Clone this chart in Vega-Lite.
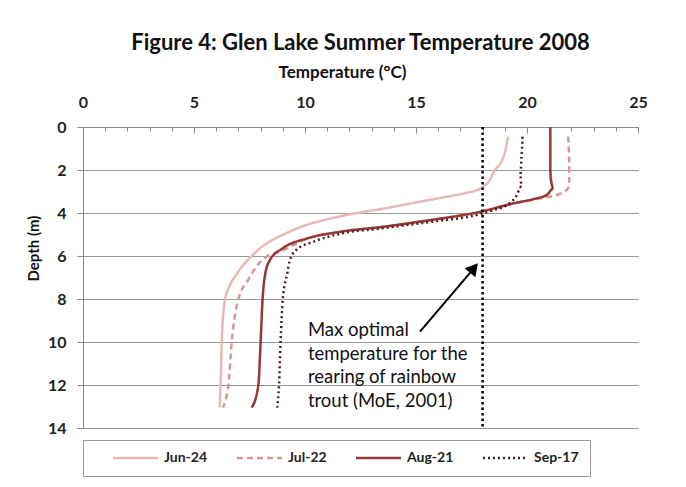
{
  "$schema": "https://vega.github.io/schema/vega-lite/v6.json",
  "width": 555,
  "height": 301,
  "autosize": {"type": "none"},
  "padding": {"left": 83, "top": 127, "right": 48, "bottom": 59},
  "background": "white",
  "config": {
    "font": "Lato",
    "view": {"stroke": null},
    "legend": {
      "orient": "bottom",
      "direction": "horizontal",
      "symbolType": "M2.4,0H11.4",
      "symbolSize": 100,
      "symbolStrokeWidth": 2.5,
      "labelFontSize": 14,
      "labelFontWeight": "bold",
      "labelColor": "#222",
      "strokeColor": "#999",
      "padding": 11,
      "offset": 12,
      "columnPadding": 10,
      "labelOffset": 56
    }
  },
  "title": {
    "text": "Figure 4: Glen Lake Summer Temperature 2008",
    "fontSize": 22,
    "fontWeight": "bold",
    "color": "#111",
    "anchor": "middle",
    "offset": 9
  },
  "resolve": {"axis": {"x": "independent"}},
  "layer": [
    {
      "data": {
        "values": [
          {"date": "Jun-24", "temp": 19.15, "depth": 0.45},
          {"date": "Jun-24", "temp": 19.0, "depth": 1.2},
          {"date": "Jun-24", "temp": 18.8, "depth": 1.7},
          {"date": "Jun-24", "temp": 18.55, "depth": 2.0},
          {"date": "Jun-24", "temp": 18.3, "depth": 2.5},
          {"date": "Jun-24", "temp": 17.9, "depth": 2.85},
          {"date": "Jun-24", "temp": 17.2, "depth": 3.08},
          {"date": "Jun-24", "temp": 16.4, "depth": 3.24},
          {"date": "Jun-24", "temp": 15.2, "depth": 3.47},
          {"date": "Jun-24", "temp": 13.4, "depth": 3.82},
          {"date": "Jun-24", "temp": 11.6, "depth": 4.15},
          {"date": "Jun-24", "temp": 9.3, "depth": 4.87},
          {"date": "Jun-24", "temp": 7.8, "depth": 5.8},
          {"date": "Jun-24", "temp": 6.95, "depth": 6.8},
          {"date": "Jun-24", "temp": 6.6, "depth": 7.4},
          {"date": "Jun-24", "temp": 6.4, "depth": 8.0},
          {"date": "Jun-24", "temp": 6.25, "depth": 10.0},
          {"date": "Jun-24", "temp": 6.2, "depth": 12.0},
          {"date": "Jun-24", "temp": 6.15, "depth": 13.05},
          {"date": "Jul-22", "temp": 21.85, "depth": 0.45},
          {"date": "Jul-22", "temp": 21.9, "depth": 1.5},
          {"date": "Jul-22", "temp": 21.9, "depth": 2.6},
          {"date": "Jul-22", "temp": 21.85, "depth": 2.85},
          {"date": "Jul-22", "temp": 21.5, "depth": 3.1},
          {"date": "Jul-22", "temp": 20.6, "depth": 3.32},
          {"date": "Jul-22", "temp": 19.4, "depth": 3.56},
          {"date": "Jul-22", "temp": 17.9, "depth": 3.95},
          {"date": "Jul-22", "temp": 15.5, "depth": 4.36},
          {"date": "Jul-22", "temp": 13.6, "depth": 4.64},
          {"date": "Jul-22", "temp": 11.6, "depth": 4.88},
          {"date": "Jul-22", "temp": 10.1, "depth": 5.2},
          {"date": "Jul-22", "temp": 8.87, "depth": 5.8},
          {"date": "Jul-22", "temp": 8.27, "depth": 6.03},
          {"date": "Jul-22", "temp": 7.8, "depth": 6.5},
          {"date": "Jul-22", "temp": 7.45, "depth": 7.1},
          {"date": "Jul-22", "temp": 7.0, "depth": 8.0},
          {"date": "Jul-22", "temp": 6.7, "depth": 10.0},
          {"date": "Jul-22", "temp": 6.55, "depth": 12.0},
          {"date": "Jul-22", "temp": 6.3, "depth": 13.05},
          {"date": "Aug-21", "temp": 21.05, "depth": 0.0},
          {"date": "Aug-21", "temp": 21.05, "depth": 1.0},
          {"date": "Aug-21", "temp": 21.05, "depth": 2.0},
          {"date": "Aug-21", "temp": 21.1, "depth": 2.6},
          {"date": "Aug-21", "temp": 21.2, "depth": 2.85},
          {"date": "Aug-21", "temp": 20.9, "depth": 3.15},
          {"date": "Aug-21", "temp": 20.3, "depth": 3.35},
          {"date": "Aug-21", "temp": 19.4, "depth": 3.55},
          {"date": "Aug-21", "temp": 17.9, "depth": 3.94},
          {"date": "Aug-21", "temp": 15.5, "depth": 4.35},
          {"date": "Aug-21", "temp": 13.6, "depth": 4.63},
          {"date": "Aug-21", "temp": 11.6, "depth": 4.87},
          {"date": "Aug-21", "temp": 10.1, "depth": 5.18},
          {"date": "Aug-21", "temp": 9.0, "depth": 5.64},
          {"date": "Aug-21", "temp": 8.42, "depth": 6.19},
          {"date": "Aug-21", "temp": 8.2, "depth": 6.88},
          {"date": "Aug-21", "temp": 8.09, "depth": 8.0},
          {"date": "Aug-21", "temp": 8.0, "depth": 10.0},
          {"date": "Aug-21", "temp": 7.9, "depth": 12.0},
          {"date": "Aug-21", "temp": 7.6, "depth": 13.05},
          {"date": "Sep-17", "temp": 19.8, "depth": 0.45},
          {"date": "Sep-17", "temp": 19.75, "depth": 1.5},
          {"date": "Sep-17", "temp": 19.7, "depth": 2.2},
          {"date": "Sep-17", "temp": 19.75, "depth": 2.77},
          {"date": "Sep-17", "temp": 19.5, "depth": 3.24},
          {"date": "Sep-17", "temp": 19.1, "depth": 3.63},
          {"date": "Sep-17", "temp": 18.5, "depth": 3.86},
          {"date": "Sep-17", "temp": 17.9, "depth": 4.05},
          {"date": "Sep-17", "temp": 15.6, "depth": 4.42},
          {"date": "Sep-17", "temp": 13.4, "depth": 4.72},
          {"date": "Sep-17", "temp": 11.6, "depth": 4.96},
          {"date": "Sep-17", "temp": 10.4, "depth": 5.33},
          {"date": "Sep-17", "temp": 9.6, "depth": 5.72},
          {"date": "Sep-17", "temp": 9.3, "depth": 6.26},
          {"date": "Sep-17", "temp": 9.2, "depth": 6.8},
          {"date": "Sep-17", "temp": 9.0, "depth": 8.0},
          {"date": "Sep-17", "temp": 8.9, "depth": 10.0},
          {"date": "Sep-17", "temp": 8.83, "depth": 12.0},
          {"date": "Sep-17", "temp": 8.75, "depth": 13.05}
        ]
      },
      "mark": {"type": "line", "strokeWidth": 2.5, "interpolate": "monotone"},
      "encoding": {
        "x": {
          "field": "temp",
          "type": "quantitative",
          "scale": {"domain": [0, 25], "nice": false},
          "axis": {
            "orient": "top",
            "title": "Temperature (°C)",
            "titleFontSize": 17,
            "titleFontWeight": "bold",
            "titleColor": "#111",
            "titleX": 259,
            "titlePadding": 13,
            "values": [0, 5, 10, 15, 20, 25],
            "labelOverlap": false,
            "labelFlush": false,
            "labelFontSize": 16,
            "labelFontWeight": "bold",
            "labelColor": "#222",
            "labelPadding": 22.5,
            "tickSize": -6,
            "tickColor": "#888",
            "domainColor": "#888",
            "grid": false
          }
        },
        "y": {
          "field": "depth",
          "type": "quantitative",
          "scale": {"domain": [0, 14], "reverse": true, "nice": false},
          "axis": {
            "title": "Depth (m)",
            "titleFontSize": 15,
            "titleFontWeight": "bold",
            "titleColor": "#111",
            "titleY": 121,
            "titlePadding": 6,
            "values": [0, 2, 4, 6, 8, 10, 12, 14],
            "labelOverlap": false,
            "labelFlush": false,
            "labelFontSize": 16,
            "labelFontWeight": "bold",
            "labelColor": "#222",
            "labelPadding": 11,
            "tickSize": 6,
            "tickColor": "#888",
            "domainColor": "#888",
            "grid": true,
            "gridColor": "#999",
            "gridWidth": 1
          }
        },
        "order": {"field": "depth", "type": "quantitative"},
        "color": {
          "field": "date",
          "type": "nominal",
          "title": null,
          "scale": {
            "domain": ["Jun-24", "Jul-22", "Aug-21", "Sep-17"],
            "range": ["#E6B9B8", "#D99694", "#953735", "#4a1e1e"]
          }
        },
        "strokeDash": {
          "field": "date",
          "type": "nominal",
          "title": null,
          "scale": {
            "domain": ["Jun-24", "Jul-22", "Aug-21", "Sep-17"],
            "range": [[1, 0], [6, 4], [1, 0], [2, 3]]
          }
        }
      }
    },
    {
      "data": {"values": [{"t": 18}]},
      "mark": {"type": "rule", "color": "black", "strokeWidth": 2.5, "strokeDash": [2.5, 3]},
      "encoding": {
        "x": {
          "field": "t",
          "type": "quantitative",
          "axis": {
            "orient": "top",
            "title": null,
            "labels": false,
            "domain": false,
            "grid": false,
            "values": [1,2,3,4,6,7,8,9,11,12,13,14,16,17,18,19,21,22,23,24],
            "tickSize": -4,
            "tickColor": "#888"
          }
        }
      }
    },
    {
      "data": {"values": [{"x1": 15.18, "y1": 9.52, "x2": 17.5, "y2": 6.7}]},
      "mark": {"type": "rule", "color": "black", "strokeWidth": 2},
      "encoding": {
        "x": {"field": "x1", "type": "quantitative", "axis": null},
        "y": {"field": "y1", "type": "quantitative"},
        "x2": {"field": "x2"},
        "y2": {"field": "y2"}
      }
    },
    {
      "data": {"values": [{"x": 17.61, "y": 6.56}]},
      "mark": {"type": "point", "shape": "triangle-up", "filled": true, "color": "black", "size": 200, "angle": 40, "opacity": 1},
      "encoding": {
        "x": {"field": "x", "type": "quantitative", "axis": null},
        "y": {"field": "y", "type": "quantitative"}
      }
    },
    {
      "data": {"values": [{"x": 10.13, "y": 9.72, "label": "Max optimal\ntemperature for the\nrearing of rainbow\ntrout (MoE, 2001)"}]},
      "mark": {"type": "text", "align": "left", "baseline": "alphabetic", "fontSize": 18.5, "lineHeight": 23.7, "lineBreak": "\n", "color": "#111"},
      "encoding": {
        "x": {"field": "x", "type": "quantitative", "axis": null},
        "y": {"field": "y", "type": "quantitative"},
        "text": {"field": "label"}
      }
    }
  ]
}
